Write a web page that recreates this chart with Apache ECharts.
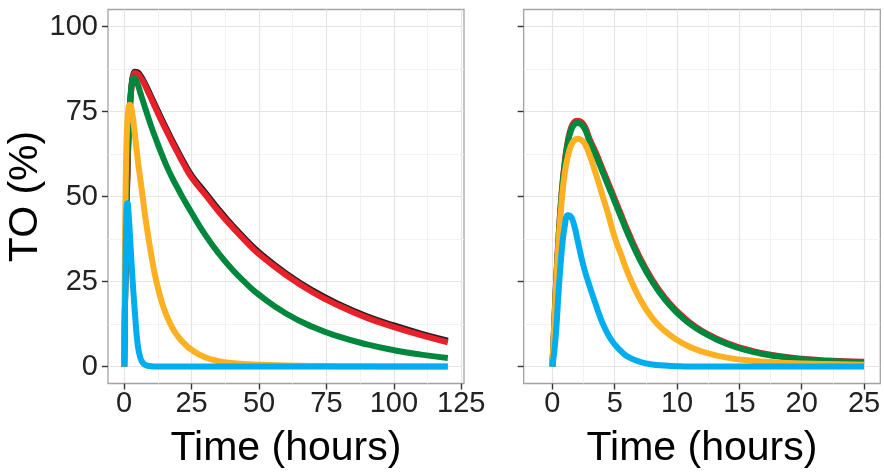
<!DOCTYPE html>
<html>
<head>
<meta charset="utf-8">
<script src="https://cdn.jsdelivr.net/npm/echarts@6/dist/echarts.min.js"></script>
<style>
  html, body { margin: 0; padding: 0; background: #ffffff; }
  #chart { width: 884px; height: 473px; }
</style>
</head>
<body>
<div id="chart"></div>
<script>
// Time grid (hours) for the long-horizon panel
const timeLong = [0, 0.25, 0.5, 0.75, 1, 1.25, 1.5, 2, 2.5, 3, 3.5, 4, 5, 6, 7, 8, 10, 12, 14, 16, 18, 20, 22, 25, 30, 35, 40, 45, 50, 60, 70, 80, 90, 100, 110, 120];
// TO (%) profiles, long horizon
const blackLong  = [0, 15.5, 28.5, 40.5, 50.5, 58.5, 65, 74.5, 80.5, 84.5, 86.2, 86.7, 86.5, 85.6, 84.3, 82.8, 79.4, 76, 72.6, 69.4, 66.2, 63.2, 60.2, 56.2, 51.2, 46.2, 41.6, 37.4, 33.6, 27.4, 22.3, 18.2, 14.8, 12.1, 9.7, 7.6];
const redLong    = [0, 15, 28, 40, 50, 58, 64.5, 74, 80, 84, 85.8, 86.3, 86, 85, 83.8, 82.2, 78.8, 75.4, 72, 68.8, 65.6, 62.6, 59.6, 55.6, 50.6, 45.6, 41.1, 36.9, 33, 26.9, 21.8, 17.7, 14.3, 11.6, 9.2, 7.1];
const greenLong  = [0, 16, 30, 42, 52, 60, 66.5, 75.5, 81, 84, 85, 84.8, 83, 80.5, 78, 75.5, 70.7, 66.4, 62.3, 58.5, 55.2, 52.2, 49.3, 45.2, 38.8, 33.3, 28.6, 24.6, 21.1, 15.6, 11.6, 8.7, 6.5, 4.8, 3.5, 2.5];
const orangeLong = [0, 30, 50, 62, 69, 73, 75.5, 77, 76.5, 74.5, 71.5, 68, 61, 55, 49, 43, 33, 24.8, 18.8, 14.5, 11.2, 8.8, 7, 4.9, 2.7, 1.6, 1.0, 0.7, 0.5, 0.3, 0.15, 0.1, 0.05, 0, 0, 0];
const blueLong   = [0, 14, 30, 42, 47.5, 48, 46.5, 40.5, 33.5, 27, 21, 15.5, 6.5, 2.5, 1, 0.4, 0.1, 0, 0, 0, 0, 0, 0, 0, 0, 0, 0, 0, 0, 0, 0, 0, 0, 0, 0, 0];

// Time grid (hours) for the short-horizon panel
const timeShort = [0, 0.25, 0.5, 0.75, 1, 1.25, 1.5, 1.75, 2, 2.5, 3, 3.5, 4, 4.5, 5, 5.5, 6, 7, 8, 9, 10, 11, 12, 14, 16, 18, 20, 22, 25];
// TO (%) profiles, short horizon
const redShort    = [0, 21, 38.5, 51.5, 60.5, 66.6, 70.2, 71.9, 72.3, 71.2, 66.8, 62.8, 58.3, 53.8, 49.3, 44.8, 40.3, 32.2, 25.6, 20.3, 16.3, 13, 10.5, 6.9, 4.6, 3.2, 2.3, 1.8, 1.4];
const greenShort  = [0, 21, 38, 51, 60, 66, 69.5, 71.2, 71.6, 70.5, 66, 62, 57.5, 53, 48.5, 44, 39.5, 31.5, 25, 19.8, 15.8, 12.6, 10.2, 6.6, 4.4, 3, 2.1, 1.6, 1.2];
const orangeShort = [0, 20, 37, 49, 57, 62, 65, 66.5, 67, 66, 62, 56.5, 50.5, 44.5, 38, 33, 28, 20, 14.3, 10.5, 7.8, 5.8, 4.4, 2.6, 1.7, 1.2, 0.9, 0.7, 0.5];
const blueShort   = [0, 8, 22, 34, 41.5, 44.5, 44, 41.5, 37.5, 29.5, 23.5, 18, 13, 9.2, 6.5, 4.5, 3, 1.4, 0.6, 0.3, 0.1, 0, 0, 0, 0, 0, 0, 0, 0];

// Tick positions
const xTicksLong  = [0, 25, 50, 75, 100, 125];
const xMinorLong  = [12.5, 37.5, 62.5, 87.5, 112.5];
const xTicksShort = [0, 5, 10, 15, 20, 25];
const xMinorShort = [2.5, 7.5, 12.5, 17.5, 22.5];
const yTicks      = [0, 25, 50, 75, 100];
const yMinor      = [12.5, 37.5, 62.5, 87.5];

const xTitle = 'Time (hours)';
const yTitle = 'TO (%)';

const palette = {
  black:  '#231F20',
  red:    '#E8202A',
  green:  '#00873E',
  orange: '#FDB022',
  blue:   '#00ADEF'
};

const FONT = '"Liberation Sans", Arial, sans-serif';
const MAJOR_GRID = '#E4E4E4';
const MINOR_GRID = '#F1F1F1';
const TICK_COLOR = '#333333';

function pairs(xs, ys) { return xs.map((x, i) => [x, ys[i]]); }

function mainX(gridIndex, min, max, ticks) {
  return {
    type: 'value', gridIndex, min, max,
    axisLine: { show: false, onZero: false },
    axisTick: { show: true, length: 6, customValues: ticks, lineStyle: { color: TICK_COLOR, width: 1.4 } },
    axisLabel: { show: true, customValues: ticks, fontSize: 29, color: '#222222', fontFamily: FONT, margin: 6 },
    splitLine: { show: true, lineStyle: { color: MAJOR_GRID, width: 1.2 } },
    name: xTitle, nameLocation: 'middle', nameGap: 45,
    nameTextStyle: { fontSize: 41, color: '#000000', fontFamily: FONT }
  };
}
function minorX(gridIndex, min, max, ticks) {
  return {
    type: 'value', gridIndex, min, max, position: 'bottom',
    axisLine: { show: false, onZero: false },
    axisTick: { show: false, customValues: ticks },
    axisLabel: { show: false, customValues: ticks },
    splitLine: { show: true, lineStyle: { color: MINOR_GRID, width: 0.9 } }
  };
}
function mainY(gridIndex, withLabels) {
  return {
    type: 'value', gridIndex, min: -5, max: 105,
    axisLine: { show: false, onZero: false },
    axisTick: { show: true, length: 6, customValues: yTicks, lineStyle: { color: TICK_COLOR, width: 1.4 } },
    axisLabel: { show: withLabels, customValues: yTicks, fontSize: 29, color: '#222222', fontFamily: FONT, margin: 10 },
    splitLine: { show: true, lineStyle: { color: MAJOR_GRID, width: 1.2 } },
    name: withLabels ? yTitle : '', nameLocation: 'middle', nameGap: 53, nameRotate: 90,
    nameTextStyle: { fontSize: 41, color: '#000000', fontFamily: FONT }
  };
}
function minorY(gridIndex) {
  return {
    type: 'value', gridIndex, min: -5, max: 105, position: 'left',
    axisLine: { show: false, onZero: false },
    axisTick: { show: false, customValues: yMinor },
    axisLabel: { show: false, customValues: yMinor },
    splitLine: { show: true, lineStyle: { color: MINOR_GRID, width: 0.9 } }
  };
}
function curve(xIdx, yIdx, xs, ys, color, z) {
  return {
    type: 'line', xAxisIndex: xIdx, yAxisIndex: yIdx,
    data: pairs(xs, ys), showSymbol: false, symbol: 'none',
    smooth: 0.5, silent: true, z,
    lineStyle: { width: 6, color, cap: 'butt', join: 'round' },
    itemStyle: { color }
  };
}
function panel(left, width) {
  return {
    left, top: 9.5, width, height: 374,
    outerBoundsMode: 'none', containLabel: false,
    show: true, borderColor: '#A3A3A3', borderWidth: 1.3, backgroundColor: '#ffffff'
  };
}

const chart = echarts.init(document.getElementById('chart'), null, { renderer: 'canvas' });
chart.setOption({
  animation: false,
  backgroundColor: '#ffffff',
  grid: [panel(108, 356), panel(523.7, 356.6)],
  xAxis: [
    mainX(0, -6, 126, xTicksLong),
    minorX(0, -6, 126, xMinorLong),
    mainX(1, -2.3, 26.3, xTicksShort),
    minorX(1, -2.3, 26.3, xMinorShort)
  ],
  yAxis: [
    mainY(0, true),
    minorY(0),
    mainY(1, false),
    minorY(1)
  ],
  series: [
    curve(0, 0, timeLong, blackLong, palette.black, 2),
    curve(0, 0, timeLong, redLong, palette.red, 3),
    curve(0, 0, timeLong, greenLong, palette.green, 4),
    curve(0, 0, timeLong, orangeLong, palette.orange, 5),
    curve(0, 0, timeLong, blueLong, palette.blue, 6),
    curve(2, 2, timeShort, redShort, palette.red, 3),
    curve(2, 2, timeShort, greenShort, palette.green, 4),
    curve(2, 2, timeShort, orangeShort, palette.orange, 5),
    curve(2, 2, timeShort, blueShort, palette.blue, 6)
  ]
});
</script>
</body>
</html>
